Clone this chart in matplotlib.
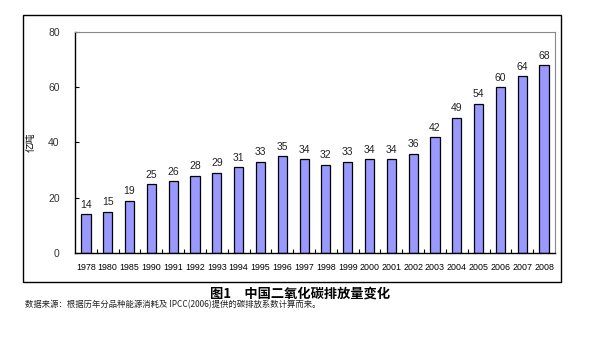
import matplotlib
matplotlib.use("Agg")
from matplotlib import pyplot as plt
from matplotlib.patches import Rectangle
import numpy as np

plt.rcParams['font.family'] = ['Liberation Sans', 'Noto Sans CJK SC', 'DejaVu Sans']

years = ["1978", "1980", "1985", "1990", "1991", "1992", "1993", "1994", "1995", "1996", "1997",
         "1998", "1999", "2000", "2001", "2002", "2003", "2004", "2005", "2006", "2007", "2008"]
emissions = [14, 15, 19, 25, 26, 28, 29, 31, 33, 35, 34, 32, 33, 34, 34, 36, 42, 49, 54, 60, 64, 68]

fig = plt.figure(figsize=(5.94, 3.39), dpi=100)
ax = fig.add_axes([0.1263, 0.2537, 0.808, 0.652])

x = np.arange(len(years))
bars = ax.bar(x, emissions, width=0.42, color="#9999FF", edgecolor="black", linewidth=0.9)
for xi, v in zip(x, emissions):
    ax.text(xi, v + 1.6, str(v), ha="center", va="bottom", fontsize=7.5, color="#222222")

ax.set_xlim(-0.5, len(years) - 0.5)
ax.set_ylim(0, 80)
ax.set_yticks([0, 20, 40, 60, 80])
ax.set_xticks(x)
ax.set_xticklabels(years, fontsize=6.4)
ax.set_xticks(x[:-1] + 0.5, minor=True)
ax.tick_params(axis="x", which="major", length=0, pad=7)
ax.tick_params(axis="x", which="minor", direction="in", length=3, width=0.8)
ax.tick_params(axis="y", direction="in", length=3, width=0.8, pad=11, labelsize=7.5, labelcolor="#333333")

ax.spines["top"].set_color("#888888")
ax.spines["right"].set_color("#888888")
ax.spines["left"].set_linewidth(1.0)
ax.spines["bottom"].set_linewidth(1.0)

ax.set_ylabel("亿吨", fontsize=7, family=["Noto Sans CJK SC"], labelpad=9)

# outer frame around the chart
fig.patches.append(Rectangle((0.0387, 0.168), 0.9057, 0.788, transform=fig.transFigure,
                             fill=False, edgecolor="black", linewidth=1.0))

fig.text(0.505, 0.135, "图1　中国二氧化碳排放量变化", ha="center", va="center", fontsize=9.5,
         fontweight="bold", family=["Noto Sans CJK SC"])
fig.text(0.042, 0.10, "数据来源：根据历年分品种能源消耗及 IPCC(2006)提供的碳排放系数计算而来。",
         ha="left", va="center", fontsize=6, family=["Noto Sans CJK SC", "DejaVu Sans"], color="#222222")

fig.savefig("out.png", dpi=100)
